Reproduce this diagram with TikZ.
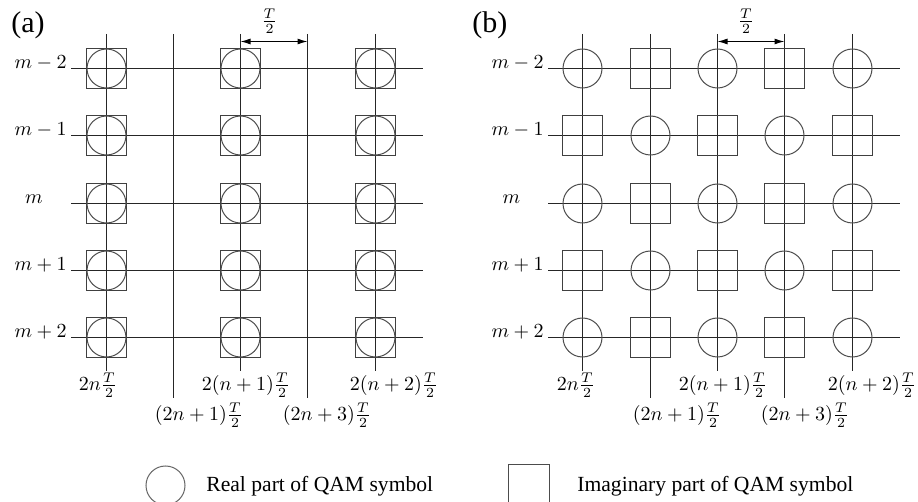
\documentclass[tikz,border=0pt]{standalone}
\usepackage{fontspec}
\newfontfamily\tnr{Liberation Serif}
\usetikzlibrary{arrows.meta}
\tikzset{
  gridline/.style={draw=black!85, line width=0.6pt},
  qcirc/.style={circle, draw=black!70, line width=0.5pt, minimum size=19.5pt, inner sep=0pt},
  qsq/.style={rectangle, draw=black!75, line width=0.5pt, minimum size=20.25pt, inner sep=0pt},
  dimarrow/.style={draw=black, line width=0.55pt, {Latex[length=5pt,width=3pt]}-{Latex[length=5pt,width=3pt]}},
  rowlab/.style={anchor=base east, inner sep=0pt, font=\fontsize{10.2}{12}\selectfont},
  collab/.style={inner sep=0pt, font=\fontsize{10.2}{12}\selectfont},
  panellab/.style={anchor=base west, inner sep=0pt, font=\tnr\fontsize{15}{17}\selectfont},
  legendtext/.style={anchor=base west, inner sep=0pt, font=\tnr\fontsize{10.8}{13}\selectfont},
}
\begin{document}
\begin{tikzpicture}[x=0.5pt,y=-0.5pt]
\useasboundingbox (0,0) rectangle (918,502);

% ---------------- panel (a) ----------------
\node[panellab] (pa) at (11,33) {(a)};
\foreach \x/\b/\n in {106.5/371/1, 173.5/398/2, 240.5/371/3, 307.5/398/4, 375.5/371/5}{
  \coordinate (at\n) at (\x,34);
  \coordinate (ab\n) at (\x,\b);
  \draw[gridline] (at\n) -- (ab\n);
}
\foreach \y/\n in {68.5/1, 135.5/2, 203.5/3, 270.5/4, 337.5/5}{
  \coordinate (al\n) at (71,\y);
  \coordinate (ar\n) at (423,\y);
  \draw[gridline] (al\n) -- (ar\n);
  \foreach \x/\i in {106.5/1, 240.5/3, 375.5/5}{
    \node[qsq] (asq-\i-\n) at (\x,\y) {};
    \node[qcirc] (aci-\i-\n) at (\x,\y) {};
  }
}
\node[rowlab] (am1) at (67,68.5) {$m-2$};
\node[rowlab] (am2) at (67,135.5) {$m-1$};
\node[collab, anchor=base] (am3) at (34,203.5) {$m$};
\node[rowlab] (am4) at (67,270.5) {$m+1$};
\node[rowlab] (am5) at (67,337.5) {$m+2$};

\coordinate (aarl) at (240.5,41.5);
\coordinate (aarr) at (307.5,41.5);
\draw[dimarrow] (aarl) -- (aarr);
\node[collab] (aT) at (269.5,21.5) {$\frac{T}{2}$};

\node[collab] (ax1) at (98,385) {$2n\frac{T}{2}$};
\node[collab] (ax3) at (246,385) {$2(n+1)\frac{T}{2}$};
\node[collab] (ax5) at (394,385) {$2(n+2)\frac{T}{2}$};
\node[collab] (ax2) at (199,415) {$(2n+1)\frac{T}{2}$};
\node[collab] (ax4) at (327,415) {$(2n+3)\frac{T}{2}$};

% ---------------- panel (b) ----------------
\node[panellab] (pb) at (472,33) {(b)};
\foreach \x/\b/\n in {582.5/371/1, 650.5/398/2, 717.5/371/3, 784.5/398/4, 852.5/371/5}{
  \coordinate (bt\n) at (\x,34);
  \coordinate (bb\n) at (\x,\b);
  \draw[gridline] (bt\n) -- (bb\n);
}
\foreach \y [count=\j] in {68.5, 135.5, 203.5, 270.5, 337.5}{
  \coordinate (bl\j) at (548,\y);
  \coordinate (br\j) at (900,\y);
  \draw[gridline] (bl\j) -- (br\j);
  \foreach \x [count=\i] in {582.5, 650.5, 717.5, 784.5, 852.5}{
    \pgfmathtruncatemacro{\pp}{mod(\i+\j,2)}
    \ifnum\pp=0
      \node[qcirc] (bs-\i-\j) at (\x,\y) {};
    \else
      \node[qsq] (bs-\i-\j) at (\x,\y) {};
    \fi
  }
}
\node[rowlab] (bm1) at (544,68.5) {$m-2$};
\node[rowlab] (bm2) at (544,135.5) {$m-1$};
\node[collab, anchor=base] (bm3) at (511.5,203.5) {$m$};
\node[rowlab] (bm4) at (544,270.5) {$m+1$};
\node[rowlab] (bm5) at (544,337.5) {$m+2$};

\coordinate (barl) at (717.5,41.5);
\coordinate (barr) at (784.5,41.5);
\draw[dimarrow] (barl) -- (barr);
\node[collab] (bT) at (746,21.5) {$\frac{T}{2}$};

\node[collab] (bx1) at (576,385) {$2n\frac{T}{2}$};
\node[collab] (bx3) at (723,385) {$2(n+1)\frac{T}{2}$};
\node[collab] (bx5) at (872,385) {$2(n+2)\frac{T}{2}$};
\node[collab] (bx2) at (677,415) {$(2n+1)\frac{T}{2}$};
\node[collab] (bx4) at (805,415) {$(2n+3)\frac{T}{2}$};

% ---------------- legend ----------------
\node[qcirc, draw=black!60] (lc) at (165.5,485.5) {};
\node[legendtext] (lct) at (206,492) {Real part of QAM symbol};
\node[qsq, minimum size=20.5pt, draw=black!70] (ls) at (528.5,485.5) {};
\node[legendtext] (lst) at (577,492) {Imaginary part of QAM symbol};
\end{tikzpicture}
\end{document}
